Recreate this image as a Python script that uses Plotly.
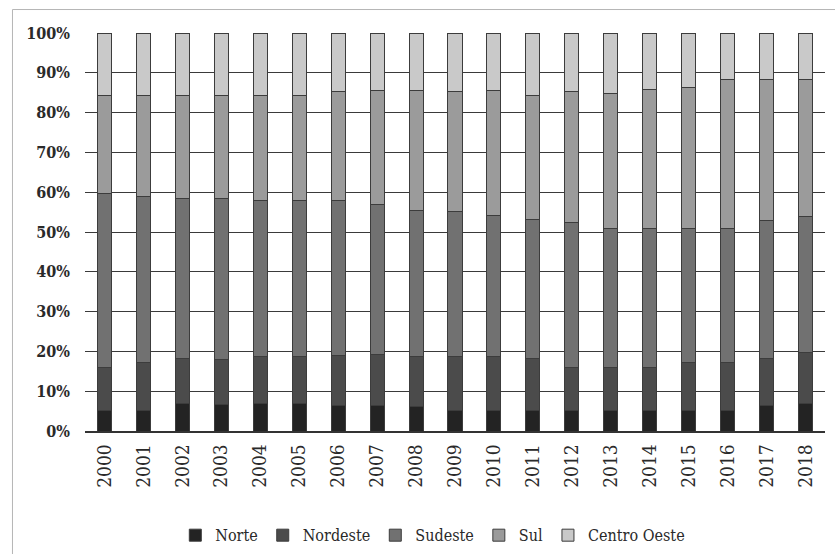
import plotly.graph_objects as go

years = [str(y) for y in range(2000, 2019)]

# Regional shares (%) per year
norte = [5.2, 5.2, 7.0, 6.6, 6.8, 6.8, 6.3, 6.5, 6.2, 5.2, 5.2, 5.2, 5.2, 5.2, 5.2, 5.2, 5.2, 6.4, 6.8]
nordeste = [10.7, 11.9, 11.2, 11.4, 11.8, 11.9, 12.6, 12.7, 12.4, 13.4, 13.4, 13.0, 10.7, 10.7, 10.7, 11.9, 12.0, 11.9, 12.8]
sudeste = [43.9, 41.7, 40.2, 40.4, 39.3, 39.1, 39.0, 37.8, 36.8, 36.5, 35.5, 35.0, 36.6, 34.9, 35.1, 33.9, 33.8, 34.7, 34.2]
sul = [24.4, 25.4, 25.8, 25.8, 26.3, 26.4, 27.3, 28.5, 30.1, 30.1, 31.4, 31.0, 32.7, 34.0, 34.8, 35.4, 37.3, 35.2, 34.5]
centro_oeste = [15.8, 15.8, 15.8, 15.8, 15.8, 15.8, 14.8, 14.5, 14.5, 14.8, 14.5, 15.8, 14.8, 15.2, 14.2, 13.6, 11.7, 11.8, 11.7]

series = [
    ("Norte", norte, "#232323"),
    ("Nordeste", nordeste, "#4b4b4b"),
    ("Sudeste", sudeste, "#717171"),
    ("Sul", sul, "#9b9b9b"),
    ("Centro Oeste", centro_oeste, "#c9c9c9"),
]

SERIF = "DejaVu Serif Condensed"

fig = go.Figure()
for name, vals, color in series:
    fig.add_trace(go.Bar(
        x=years, y=vals, name=name,
        marker=dict(color=color, line=dict(color="#3c3c3c", width=1)),
    ))

fig.update_layout(
    width=835, height=554,
    barmode="stack", barnorm="percent", bargap=0.64,
    plot_bgcolor="white", paper_bgcolor="white",
    margin=dict(l=85, r=10, t=33, b=123, autoexpand=False),
    font=dict(family=SERIF, color="#2a2a2a"),
    showlegend=True,
    legend=dict(
        orientation="h", x=0.47, xanchor="center", y=-0.262, yanchor="middle",
        font=dict(family=SERIF, size=16, color="#2a2a2a"),
        itemwidth=30, traceorder="normal",
    ),
    xaxis=dict(
        type="category", tickangle=-90, automargin=False,
        tickfont=dict(family=SERIF, size=19, color="#2a2a2a"),
        showline=True, linecolor="#333333", linewidth=1.5,
        ticks="", ticklabelstandoff=4,
    ),
    yaxis=dict(
        range=[0, 100], dtick=10, ticksuffix="%", automargin=False,
        tickfont=dict(family=SERIF, size=16, color="#2a2a2a", weight="bold"),
        showgrid=True, gridcolor="#3a3a3a", gridwidth=1.4,
        zeroline=False, showline=False, ticks="", ticklabelstandoff=14,
    ),
    shapes=[dict(
        type="rect", xref="paper", yref="paper",
        x0=-0.098, x1=1.2, y0=-0.5, y1=1.059,
        line=dict(color="#b5b5b5", width=1), fillcolor="rgba(0,0,0,0)",
        layer="below",
    )],
)

fig.write_html("out.html")
